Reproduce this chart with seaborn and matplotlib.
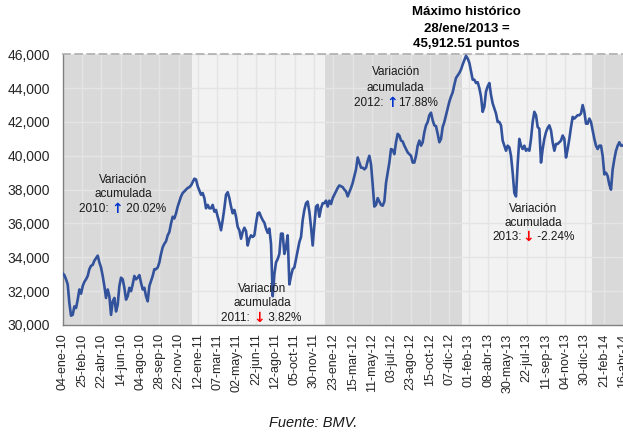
import numpy as np
import pandas as pd
import matplotlib
matplotlib.use("Agg")
import matplotlib.pyplot as plt
from matplotlib.ticker import StrMethodFormatter
import seaborn as sns

# IPC (puntos): un dato cada ~3 sesiones, por año
ipc_2010 = [33050, 32950, 32700, 32400, 31300, 30550, 30600, 31100, 31000, 31500,
            32100, 31850, 32300, 32550, 32700, 32900, 33300, 33500, 33550, 33800,
            33950, 34100, 33700, 33400, 32900, 32300, 31600, 32100, 31700, 30600,
            31400, 31600, 30800, 31200, 32300, 32800, 32700, 32200, 31500, 31700,
            32200, 32000, 32400, 32900, 32700, 32800, 32950, 32500, 32100, 32200,
            31700, 31400, 32300, 32600, 32900, 33300, 33300, 33400, 33700, 34200,
            34600, 34800, 34950, 35300, 35500, 36000, 36400, 36300, 36600, 37000,
            37300, 37600, 37800, 37900, 38000, 38100, 38150, 38250]
ipc_2011 = [38450, 38650, 38600, 38200, 37950, 37700, 37800, 37500, 36900, 37100,
            36900, 36900, 37100, 36700, 36800, 36400, 36050, 35600, 36200, 36900,
            37700, 37850, 37500, 37000, 36600, 36800, 36400, 35800, 35600, 35100,
            35500, 35750, 35550, 34700, 35100, 35300, 35200, 35300, 36000, 36600,
            36650, 36400, 36200, 36050, 35700, 35450, 35700, 34800, 31700, 33000,
            33700, 33900, 34200, 35400, 35400, 34200, 34600, 35300, 32400, 32900,
            33300, 33400, 33900, 34400, 34900, 35200, 36200, 36800, 37200, 37300,
            36700, 35800, 34700, 35900, 37000, 37100, 36400, 36900, 37200, 37200]
ipc_2012 = [37350, 37000, 37350, 37150, 37500, 37700, 37900, 38100, 38250, 38200,
            38150, 38000, 37900, 37600, 37850, 38100, 38400, 38800, 39200, 39900,
            39600, 39300, 39300, 39200, 39300, 39700, 40000, 39500, 38300, 37000,
            37100, 37500, 37300, 37100, 37050, 37300, 38400, 39000, 39600, 40400,
            40350, 40100, 40800, 41300, 41200, 40900, 40850, 40600, 40400, 40200,
            40100, 40000, 39600, 39600, 40000, 40600, 40900, 40600, 40800, 41400,
            41800, 42000, 42400, 42550, 42100, 41800, 41750, 41300, 40800, 41000,
            41700, 42000, 42400, 42800, 43200, 43500, 43750, 44200, 44600, 44750,
            44900, 45100]
ipc_2013 = [45400, 45650, 45910, 45750, 45500, 45000, 44500, 44500, 44300, 44350,
            44000, 43500, 42600, 42900, 43800, 44100, 44300, 43600, 43100, 42800,
            42500, 42000, 42000, 41800, 40900, 40600, 40300, 40600, 40500, 40000,
            39000, 37800, 37600, 39500, 41000, 40600, 40400, 40600, 40300, 40400,
            40300, 41000, 42000, 42600, 42400, 41700, 41600, 39600, 40400, 41000,
            41400, 41650, 41800, 41500, 40800, 40300, 40700, 40700, 40800, 40900,
            41200, 41000, 39900, 40400, 41000, 41700, 42300, 42200, 42300, 42400,
            42400, 42500, 43000, 42600, 41900, 41900, 42200, 42000]
ipc_2014 = [41500, 41000, 40600, 40400, 40600, 40600, 40000, 38900, 39000, 38800,
            38300, 38000, 39200, 39800, 40300, 40600, 40800, 40600, 40600, 40700,
            40800]

tick_labels = ["04-ene-10", "25-feb-10", "22-abr-10", "14-jun-10", "04-ago-10",
               "28-sep-10", "22-nov-10", "12-ene-11", "07-mar-11", "02-may-11",
               "22-jun-11", "12-ago-11", "05-oct-11", "30-nov-11", "23-ene-12",
               "15-mar-12", "11-may-12", "03-jul-12", "23-ago-12", "15-oct-12",
               "07-dic-12", "01-feb-13", "08-abr-13", "30-may-13", "22-jul-13",
               "11-sep-13", "04-nov-13", "30-dic-13", "21-feb-14", "16-abr-14"]

# variacion acumulada por año
var_prefix = ["2010: ", "2011: ", "2012: ", "2013:"]
var_suffix = [" 20.02%", " 3.82%", "17.88%", " -2.24%"]
var_up = [True, False, True, False]

# configuracion
sns.set_theme(style="white")
plt.rcParams['font.family'] = ['Liberation Sans', 'DejaVu Sans']

LINE_COLOR = '#33529c'
SHADE = ['#d9d9d9', '#f2f2f2']
TICK_STEP = 11.6  # datos entre etiquetas del eje x

years = [ipc_2010, ipc_2011, ipc_2012, ipc_2013, ipc_2014]
values = sum(years, [])
df = pd.DataFrame({"sesion": np.arange(len(values)), "ipc": values})

fig = plt.figure(figsize=(6.23, 4.32), dpi=100)
ax = fig.add_axes([62.7 / 623, 107 / 432, 563.3 / 623, 270.7 / 432])

# fondo por año
start = 0
for i, y in enumerate(years):
    ax.axvspan(start - 0.5, start + len(y) - 0.5, color=SHADE[i % 2], lw=0, zorder=0)
    start += len(y)

sns.lineplot(data=df, x="sesion", y="ipc", color=LINE_COLOR, linewidth=1.9, ax=ax, zorder=3)

ax.set_xlim(0, 338)
ax.set_ylim(30000, 46000)
ax.set_yticks(np.arange(30000, 46001, 2000))
ax.yaxis.set_major_formatter(StrMethodFormatter('{x:,.0f}'))
ax.set_xticks(np.arange(len(tick_labels)) * TICK_STEP)
ax.set_xticklabels(tick_labels, rotation=90, fontsize=9, color='#262626')
ax.tick_params(axis='y', labelsize=10, labelcolor='#262626', pad=5)
ax.tick_params(axis='both', direction='out', length=4, width=1, color='#808080')
ax.tick_params(axis='x', pad=2)
ax.set_xlabel("")
ax.set_ylabel("")

ax.set_axisbelow(True)
ax.grid(True, color='#e4e4e4', linewidth=1, zorder=0.5)

for s in ['left', 'bottom']:
    ax.spines[s].set_color('#808080')
    ax.spines[s].set_linewidth(1)
ax.spines['right'].set_visible(False)
ax.spines['top'].set_color('#b0b0b0')
ax.spines['top'].set_linestyle((0, (4, 3)))

# anotaciones de variacion acumulada
head_pos = [(36.2, 38570, 37740), (119.6, 32130, 31300),
            (199.8, 44950, 44010), (282.2, 36860, 36030)]
arrow_pos = [(32.8, 36860), (117.8, 30410), (197.8, 43120), (279.2, 35200)]
txt = dict(fontsize=8.5, color='#1a1a1a', zorder=5)
for i in range(4):
    hx, hy1, hy2 = head_pos[i]
    ax.text(hx, hy1, "Variación", ha='center', va='center', **txt)
    ax.text(hx, hy2, "acumulada", ha='center', va='center', **txt)
    ax_, ay = arrow_pos[i]
    arr = ax.text(ax_, ay, "↑" if var_up[i] else "↓", ha='center', va='center',
                  fontsize=10, fontweight='bold', family='DejaVu Sans',
                  color='#0033cc' if var_up[i] else '#ff0000', zorder=5)
    ax.annotate(var_prefix[i], xy=(0, 0.5), xycoords=arr, ha='right', va='center', **txt)
    ax.annotate(var_suffix[i], xy=(1, 0.5), xycoords=arr, ha='left', va='center', **txt)

# maximo historico
for yy, t in zip([12.3, 28.5, 43.5], ["Máximo histórico", "28/ene/2013 =", "45,912.51 puntos"]):
    fig.text(466.7 / 623, 1 - yy / 432, t, ha='center', va='center',
             fontsize=9.5, fontweight='bold', color='#000000')

fig.text(313 / 623, 1 - 423 / 432, "Fuente: BMV.", ha='center', va='center',
         fontsize=10.5, style='italic', color='#1a1a1a')

fig.savefig("out.png", dpi=100)
